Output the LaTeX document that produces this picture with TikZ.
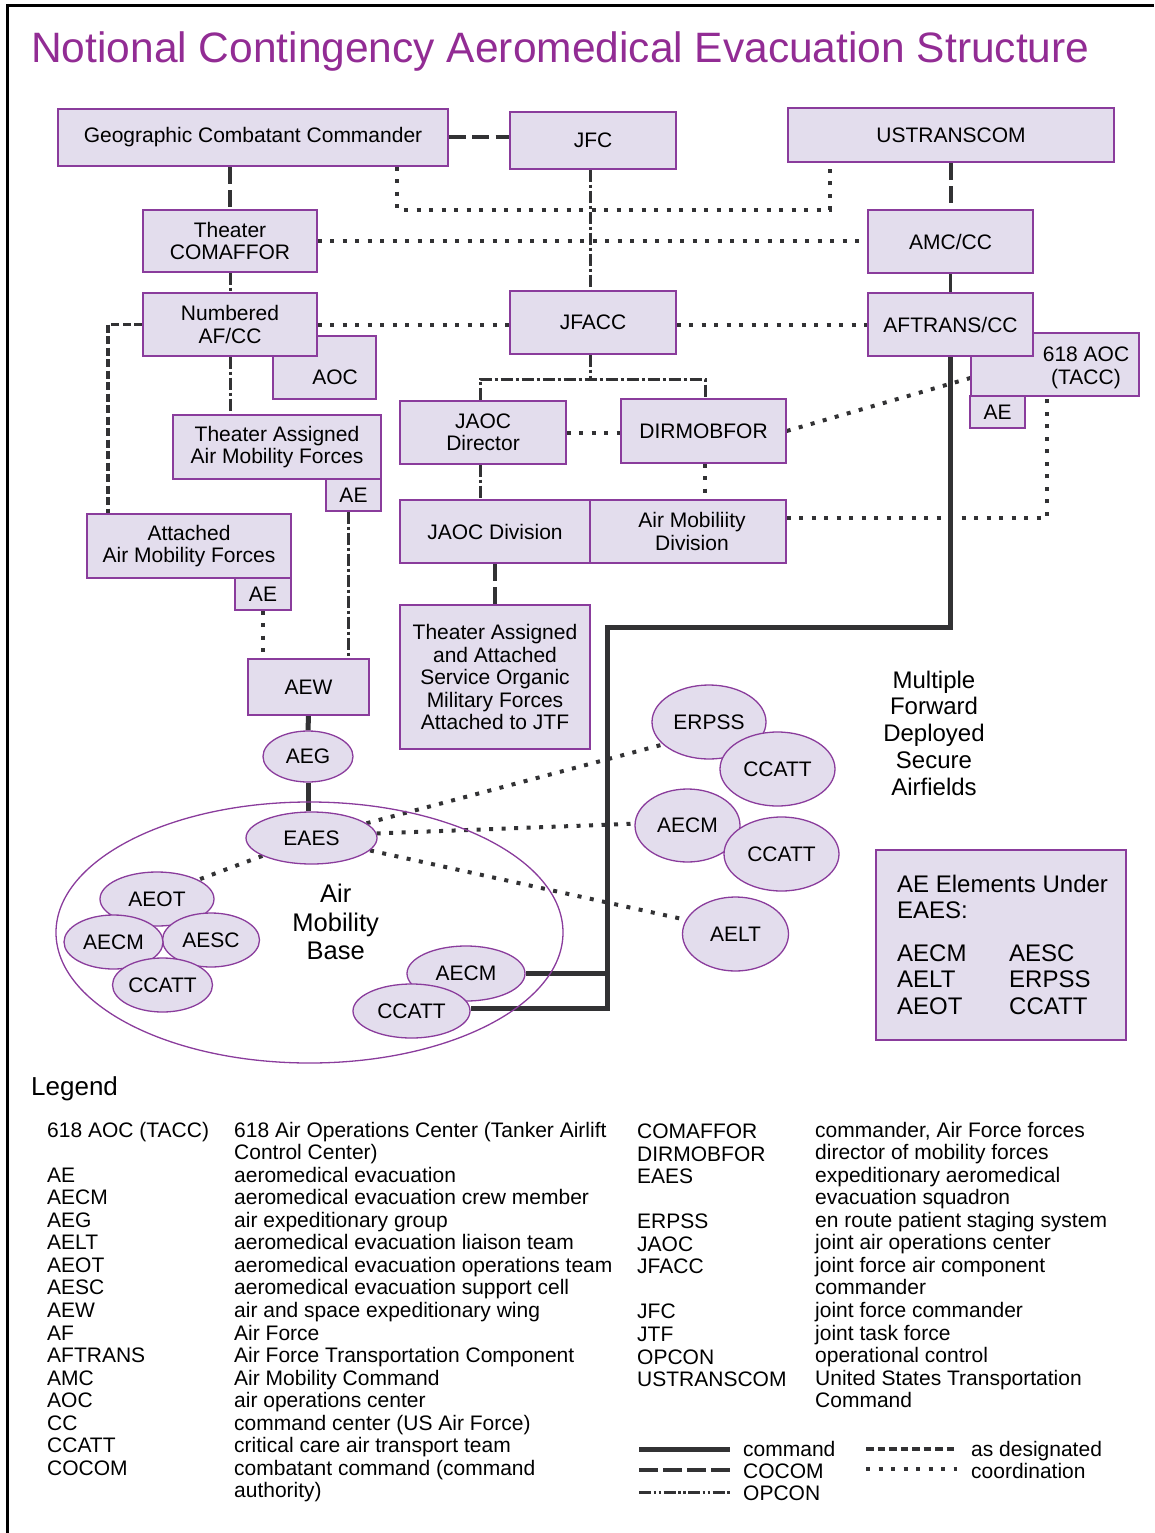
\documentclass[tikz,border=0pt]{standalone}
\usepackage{fontspec}
\setmainfont{Liberation Sans}
\usetikzlibrary{shapes.geometric,calc,backgrounds}
\definecolor{boxfill}{RGB}{227,221,237}
\definecolor{boxline}{RGB}{138,60,156}
\definecolor{ttl}{RGB}{146,44,148}
\definecolor{ln}{RGB}{50,50,52}
\tikzset{
 bx/.style={draw=boxline, fill=boxfill, line width=1.4pt, inner sep=0pt, align=center, font=\fontsize{21}{22.5}\selectfont},
 el/.style={ellipse, draw=boxline, fill=boxfill, line width=1.3pt, inner sep=0pt, font=\fontsize{21}{22.5}\selectfont},
 txt/.style={inner sep=0pt, align=center, font=\fontsize{21}{22.5}\selectfont},
 lg/.style={inner sep=0pt, anchor=base west, font=\fontsize{21}{22.5}\selectfont},
 cmdline/.style={draw=ln, line width=5pt},
 cocom/.style={draw=ln, line width=4pt, dash pattern=on 17pt off 6.5pt},
 opcon/.style={draw=ln, line width=3pt, dash pattern=on 12pt off 3pt on 3pt off 3pt},
 asdes/.style={draw=ln, line width=3.5pt, dash pattern=on 8pt off 3.5pt},
 coord/.style={draw=ln, line width=4pt, dash pattern=on 4pt off 8.5pt},
}
\begin{document}
\begin{tikzpicture}[x=1pt,y=-1pt]
\useasboundingbox (0,0) rectangle (1154,1533);
\draw[line width=3pt] (7,1533) -- (7,5.8) -- (1154,5.8);

% title
\node[anchor=base west, inner sep=0pt, text=ttl, font=\fontsize{42.5}{48}\selectfont] (title) at (31,63) {Notional Contingency Aeromedical Evacuation Structure};

% boxes
\node[bx, minimum width=390pt, minimum height=57pt] (gcc) at (253,137.5) {Geographic Combatant Commander};
\node[bx, minimum width=166pt, minimum height=57pt] (jfc) at (593,140.5) {JFC};
\node[bx, minimum width=326pt, minimum height=54pt] (ustc) at (951,135) {USTRANSCOM};
\node[bx, minimum width=174pt, minimum height=62pt] (tcom) at (230,241) {Theater\\COMAFFOR};
\node[bx, minimum width=165pt, minimum height=63pt] (amc) at (950.5,241.5) {AMC/CC};
\node[bx, minimum width=103pt, minimum height=63pt] (aoc) at (324.5,367.5) {};
\node[txt] (aoct) at (335,377.5) {AOC};
\node[bx, minimum width=174pt, minimum height=63pt] (naf) at (230,324.5) {Numbered\\AF/CC};
\node[bx, minimum width=166pt, minimum height=63pt] (jfacc) at (593,322.5) {JFACC};
\node[bx, minimum width=168pt, minimum height=63pt] (aoc618) at (1055,364.5) {};
\node[txt] (aoc618t) at (1086,368) {618 AOC\\(TACC)};
\node[bx, minimum width=165pt, minimum height=63pt] (aftrans) at (950.5,324.5) {AFTRANS/CC};
\node[bx, minimum width=55pt, minimum height=32pt] (ae618) at (997.5,412) {AE};
\node[bx, minimum width=166pt, minimum height=63pt] (jaocd) at (483,432.5) {JAOC\\Director};
\node[bx, minimum width=165pt, minimum height=64pt] (dirmob) at (703.5,431) {DIRMOBFOR};
\node[bx, minimum width=208pt, minimum height=64pt] (tamf) at (277,447) {Theater Assigned\\Air Mobility Forces};
\node[bx, minimum width=55pt, minimum height=32pt] (aetamf) at (353.5,495) {AE};
\node[bx, minimum width=204pt, minimum height=64pt] (aamf) at (189,546) {Attached\\Air Mobility Forces};
\node[bx, minimum width=56pt, minimum height=32pt] (aeaamf) at (263,594) {AE};
\node[bx, minimum width=190pt, minimum height=63pt] (jaocdiv) at (495,531.5) {JAOC Division};
\node[bx, minimum width=196pt, minimum height=63pt] (amd) at (688,531.5) {};
\node[txt] (amdt) at (692,531.5) {Air Mobiliity\\Division};
\node[bx, minimum width=190pt, minimum height=144pt] (taasmf) at (495,677) {Theater Assigned\\and Attached\\Service Organic\\Military Forces\\Attached to JTF};
\node[bx, minimum width=121pt, minimum height=56pt] (aew) at (308.5,687) {AEW};
\node[bx, minimum width=250pt, minimum height=190pt] (aee) at (1001,945) {};
\node[lg, font=\fontsize{24}{26}\selectfont] (aee1) at (897,892) {AE Elements Under};
\node[lg, font=\fontsize{24}{26}\selectfont] (aee2) at (897,918) {EAES:};
\node[lg, font=\fontsize{24}{26}\selectfont] (aee3) at (897,961) {AECM};
\node[lg, font=\fontsize{24}{26}\selectfont] (aee4) at (897,987) {AELT};
\node[lg, font=\fontsize{24}{26}\selectfont] (aee5) at (897,1014) {AEOT};
\node[lg, font=\fontsize{24}{26}\selectfont] (aee6) at (1009,961) {AESC};
\node[lg, font=\fontsize{24}{26}\selectfont] (aee7) at (1009,987) {ERPSS};
\node[lg, font=\fontsize{24}{26}\selectfont] (aee8) at (1009,1014) {CCATT};

% ellipses
\node[ellipse, draw=boxline, line width=1.3pt, minimum width=507pt, minimum height=261pt, inner sep=0pt] (amb) at (309.5,932.5) {};
\node[txt, font=\fontsize{25.5}{28.5}\selectfont] (ambt) at (335.7,922) {Air\\Mobility\\Base};
\node[el, minimum width=90pt, minimum height=51pt] (aeg) at (308,756.5) {AEG};
\node[el, minimum width=131pt, minimum height=52pt] (eaes) at (311.5,838) {EAES};
\node[el, minimum width=114pt, minimum height=54pt] (aeot) at (157,899) {AEOT};
\node[el, minimum width=97pt, minimum height=54pt] (aesc) at (211,940) {AESC};
\node[el, minimum width=99pt, minimum height=54pt] (aecmA) at (113.5,942) {AECM};
\node[el, minimum width=100pt, minimum height=54pt] (ccattA) at (162.5,985) {CCATT};
\node[el, minimum width=118pt, minimum height=55pt] (aecmB) at (466,973.5) {AECM};
\node[el, minimum width=117pt, minimum height=54pt] (ccattB) at (411.5,1011) {CCATT};
\node[el, minimum width=114pt, minimum height=74pt] (erpss) at (709,722) {ERPSS};
\node[el, minimum width=115pt, minimum height=74pt] (ccattC) at (777.5,769) {CCATT};
\node[el, minimum width=105pt, minimum height=73pt] (aecmC) at (687.5,825.5) {AECM};
\node[el, minimum width=115pt, minimum height=74pt] (ccattD) at (781.5,854) {CCATT};
\node[el, minimum width=106pt, minimum height=74pt] (aelt) at (735.5,934) {AELT};
\node[txt, font=\fontsize{24}{26.75}\selectfont] (mfd) at (934,733) {Multiple\\Forward\\Deployed\\Secure\\Airfields};

% connectors
\coordinate (c1) at (830,209.5);
\coordinate (jbr) at (590,379);
\coordinate (cmA) at (607,627);
\coordinate (cmB) at (607,1008);
\begin{scope}[on background layer]
\draw[cocom] (gcc.east) -- (gcc.east -| jfc.west);
\draw[cocom] (gcc.south -| tcom.north) -- (tcom.north);
\draw[coord] ([xshift=144pt]gcc.south) |- (c1) -- (c1 |- ustc.south);
\draw[opcon] ([xshift=-3pt]jfc.south) -- ([xshift=-3pt]jfacc.north);
\draw[cocom] (ustc.south -| amc.north) -- (amc.north);
\draw[coord] (tcom.east) -- (tcom.east -| amc.west);
\draw[opcon] (tcom.south) -- (naf.north);
\draw[ln, line width=3pt] (amc.south) -- (aftrans.north);
\draw[coord] (naf.east) -- (naf.east -| jfacc.west);
\draw[coord] (aftrans.west -| jfacc.east) -- (aftrans.west);
\draw[asdes] (naf.west) -| ([xshift=-81pt]aamf.north);
\draw[opcon] (naf.south) -- (naf.south |- tamf.north);
\draw[opcon] ([xshift=-3pt]jfacc.south) -- (jbr);
\draw[opcon] ([xshift=-3pt]jaocd.north) |- (jbr) -| ([xshift=1.5pt]dirmob.north);
\draw[coord] (jaocd.east) -- (jaocd.east -| dirmob.west);
\draw[coord] (dirmob.east) -- ([yshift=-13.5pt]aoc618.west);
\draw[coord] ([xshift=1.5pt]dirmob.south) -- ([xshift=1.5pt]dirmob.south |- amd.north);
\draw[opcon] ([xshift=-3pt]jaocd.south) -- ([xshift=-3pt]jaocd.south |- jaocdiv.north);
\draw[coord] ([yshift=13.5pt]amd.east) -| ([xshift=-8pt]aoc618.south);
\draw[cmdline] (aftrans.south) |- (cmA) -- (cmB) -- (cmB -| ccattB.east);
\draw[cmdline] (aecmB.east) -- (aecmB.east -| cmA);
\draw[cocom] (jaocdiv.south) -- (taasmf.north);
\draw[opcon] ([xshift=-5pt]aetamf.south) -- ([xshift=-5pt]aetamf.south |- aew.north);
\draw[coord] (aeaamf.south) -- (aeaamf.south |- aew.north);
\draw[cmdline] (aew.south) -- (aeg.north);
\draw[cmdline] (aeg.south) -- (aeg.south |- eaes.north);
\draw[coord] (eaes.200) -- (aeot.25);
\draw[coord] (eaes.15) -- (erpss.206);
\draw[coord] (eaes.4) -- (aecmC.178);
\draw[coord] (eaes.-12) -- (aelt.164);
\end{scope}

% legend
\node[lg, font=\fontsize{26}{28}\selectfont] (leg) at (31,1095) {Legend};
\foreach \k/\t in {0/{618 AOC (TACC)},2/{AE},3/{AECM},4/{AEG},5/{AELT},6/{AEOT},7/{AESC},8/{AEW},9/{AF},10/{AFTRANS},11/{AMC},12/{AOC},13/{CC},14/{CCATT},15/{COCOM}}
  \node[lg] (la\k) at (47,{1137+22.56*\k}) {\t};
\foreach \k/\t in {0/{618 Air Operations Center (Tanker Airlift},1/{Control Center)},2/{aeromedical evacuation},3/{aeromedical evacuation crew member},4/{air expeditionary group},5/{aeromedical evacuation liaison team},6/{aeromedical evacuation operations team},7/{aeromedical evacuation support cell},8/{air and space expeditionary wing},9/{Air Force},10/{Air Force Transportation Component},11/{Air Mobility Command},12/{air operations center},13/{command center (US Air Force)},14/{critical care air transport team},15/{combatant command (command},16/{authority)}}
  \node[lg] (ld\k) at (234,{1137+22.56*\k}) {\t};
\foreach \k/\t in {0/{COMAFFOR},1/{DIRMOBFOR},2/{EAES},4/{ERPSS},5/{JAOC},6/{JFACC},8/{JFC},9/{JTF},10/{OPCON},11/{USTRANSCOM}}
  \node[lg] (ra\k) at (637,{1138.5+22.56*\k}) {\t};
\foreach \k/\t in {0/{commander, Air Force forces},1/{director of mobility forces},2/{expeditionary aeromedical},3/{evacuation squadron},4/{en route patient staging system},5/{joint air operations center},6/{joint force air component},7/{commander},8/{joint force commander},9/{joint task force},10/{operational control},11/{United States Transportation},12/{Command}}
  \node[lg] (rd\k) at (815,{1137+22.56*\k}) {\t};

\coordinate (l1a) at (639,1449); \coordinate (l1b) at (730,1449);
\coordinate (l2a) at (639,1470); \coordinate (l2b) at (730,1470);
\coordinate (l3a) at (639,1492); \coordinate (l3b) at (730,1492);
\coordinate (l4a) at (866,1449); \coordinate (l4b) at (957,1449);
\coordinate (l5a) at (866,1469); \coordinate (l5b) at (957,1469);
\draw[cmdline] (l1a) -- (l1b);
\draw[cocom, dash pattern=on 18.5pt off 5.5pt] (l2a) -- (l2b);
\draw[opcon, dash pattern=on 12pt off 2.5pt on 2.5pt off 2.5pt on 2.5pt off 2.5pt] (l3a) -- (l3b);
\draw[asdes, dash pattern=on 7.5pt off 4pt] (l4a) -- (l4b);
\draw[coord] (l5a) -- (l5b);
\node[lg] (k1) at (743,1456) {command};
\node[lg] (k2) at (743,1478) {COCOM};
\node[lg] (k3) at (743,1500) {OPCON};
\node[lg] (k4) at (971,1456) {as designated};
\node[lg] (k5) at (971,1478) {coordination};
\end{tikzpicture}
\end{document}
